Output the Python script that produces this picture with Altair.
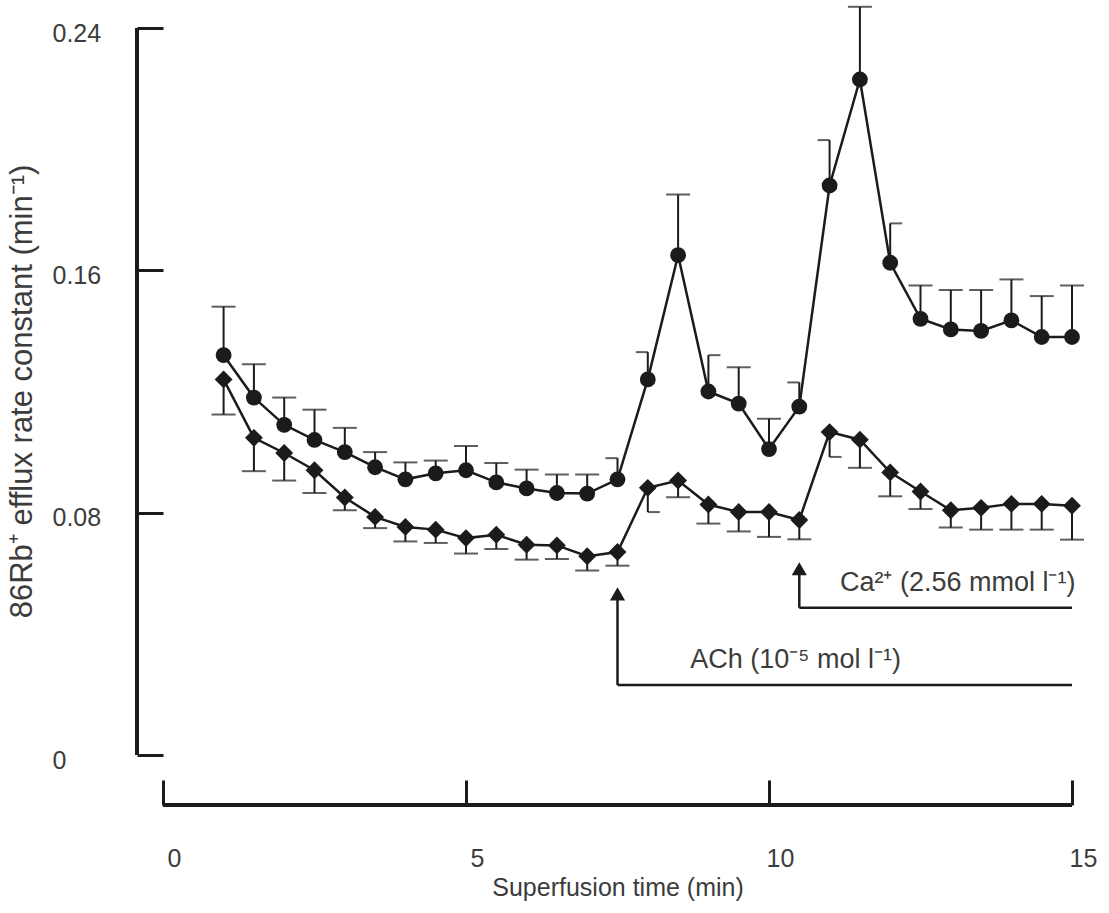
import altair as alt
import pandas as pd

# ---------------- data ----------------
time_min = [1.0, 1.5, 2.0, 2.5, 3.0, 3.5, 4.0, 4.5, 5.0, 5.5, 6.0, 6.5, 7.0, 7.5,
            8.0, 8.5, 9.0, 9.5, 10.0, 10.5, 11.0, 11.5, 12.0, 12.5, 13.0, 13.5,
            14.0, 14.5, 15.0]

# filled circles (upper curve): mean and top of the (upward) error bar
circle_mean = [0.132, 0.118, 0.109, 0.104, 0.100, 0.095, 0.091, 0.093, 0.094, 0.090,
               0.088, 0.0865, 0.0863, 0.091, 0.124, 0.165, 0.120, 0.116, 0.101, 0.115,
               0.188, 0.223, 0.1625, 0.144, 0.1405, 0.140, 0.1435, 0.138, 0.138]
circle_hi = [0.148, 0.129, 0.118, 0.114, 0.108, 0.100, 0.0966, 0.0972, 0.102, 0.0964,
             0.0942, 0.0926, 0.0926, 0.098, 0.133, 0.185, 0.132, 0.128, 0.111, 0.123,
             0.203, 0.247, 0.1755, 0.155, 0.1535, 0.1535, 0.157, 0.1515, 0.155]

# filled diamonds (lower curve): mean and bottom of the (downward) error bar
diamond_mean = [0.124, 0.1047, 0.0997, 0.094, 0.085, 0.0786, 0.0753, 0.0744, 0.0716, 0.0727,
                0.0694, 0.0692, 0.0656, 0.067, 0.0882, 0.0906, 0.0827, 0.0802, 0.0802, 0.0776,
                0.1066, 0.1041, 0.0933, 0.087, 0.0808, 0.0816, 0.0829, 0.0829, 0.0823]
diamond_lo = [0.1124, 0.0937, 0.0906, 0.0865, 0.0808, 0.0749, 0.0705, 0.070, 0.0665, 0.068,
              0.0645, 0.0647, 0.0609, 0.0625, 0.0802, 0.0851, 0.0764, 0.0738, 0.072, 0.0712,
              0.0984, 0.0948, 0.0854, 0.0812, 0.0751, 0.0744, 0.0744, 0.0744, 0.0711]

y_ticks = [0, 0.08, 0.16, 0.24]
x_ticks = [0, 5, 10, 15]

ach_label = "ACh (10\u207b\u2075 mol l\u207b\u00b9)"
ca_label = "Ca\u00b2\u207a (2.56 mmol l\u207b\u00b9)"
y_title = "86Rb\u207a efflux rate constant (min\u207b\u00b9)"
x_title = "Superfusion time (min)"

# ---------------- style ----------------
INK = "#1b1b1b"
TXT = "#3c3c3c"
FONT = "Liberation Sans, Arial, Helvetica, sans-serif"
W, H = 909, 727
# which error-bar caps are drawn only on one side in the original
HALF_CAPS = {("circle", 7.5): "left", ("circle", 8.0): "left", ("circle", 9.0): "right",
             ("circle", 10.5): "left", ("circle", 11.0): "left", ("circle", 12.0): "right",
             ("diamond", 8.0): "right", ("diamond", 11.0): "right"}

rows = []
for t, m, e in zip(time_min, circle_mean, circle_hi):
    rows.append({"t": t, "series": "circle", "mean": m, "end": e,
                 "cap": HALF_CAPS.get(("circle", t), "full")})
for t, m, e in zip(time_min, diamond_mean, diamond_lo):
    rows.append({"t": t, "series": "diamond", "mean": m, "end": e,
                 "cap": HALF_CAPS.get(("diamond", t), "full")})
df = pd.DataFrame(rows)

xscale = alt.Scale(domain=[0, 15], nice=False, zero=False)
yscale = alt.Scale(domain=[0, 0.24], nice=False)

x_axis = alt.Axis(values=x_ticks, title=x_title, domain=False, grid=False,
                  offset=25, tickSize=25, tickWidth=3, tickColor=INK, format="d",
                  labelPadding=41, labelOffset=11, labelFontSize=25, labelColor=TXT,
                  labelFont=FONT, labelBaseline="top", labelFlush=False,
                  titleFont=FONT, titleFontSize=25, titleColor=TXT,
                  titleFontWeight="normal", titlePadding=4)
y_axis = alt.Axis(values=y_ticks, title=y_title, domain=False, grid=False,
                  tickSize=26, tickWidth=3, tickColor=INK,
                  labelAlign="left", labelPadding=85, labelFontSize=25, labelOffset=5,
                  labelColor=TXT, labelFont=FONT, format=".2~f", labelFlush=False,
                  titleFont=FONT, titleFontSize=31, titleColor=TXT,
                  titleFontWeight="normal", titleAngle=270,
                  titleX=-141, titleY=363, titleAlign="center",
                  titleBaseline="middle")

base = alt.Chart(df)

err = base.mark_rule(color=INK, strokeWidth=2).encode(
    x=alt.X("t:Q", scale=xscale, axis=x_axis),
    y=alt.Y("mean:Q", scale=yscale, axis=y_axis),
    y2="end:Q",
)
cap_full = base.transform_filter(alt.datum.cap == "full").mark_tick(
    orient="horizontal", size=24, thickness=2, color=INK).encode(
    x="t:Q", y="end:Q")
cap_left = base.transform_filter(alt.datum.cap == "left").mark_tick(
    orient="horizontal", size=12, thickness=2, color=INK, xOffset=-6).encode(
    x="t:Q", y="end:Q")
cap_right = base.transform_filter(alt.datum.cap == "right").mark_tick(
    orient="horizontal", size=12, thickness=2, color=INK, xOffset=6).encode(
    x="t:Q", y="end:Q")

lines = base.mark_line(color=INK, strokeWidth=2.5).encode(
    x="t:Q", y="mean:Q", detail="series:N")

circles = base.transform_filter(alt.datum.series == "circle").mark_point(
    shape="circle", filled=True, size=250, color=INK, opacity=1).encode(
    x="t:Q", y="mean:Q")
diamonds = base.transform_filter(alt.datum.series == "diamond").mark_point(
    shape="diamond", filled=True, size=320, color=INK, opacity=1).encode(
    x="t:Q", y="mean:Q")

# axis lines, detached from the plot as in the original
y_line = alt.Chart(pd.DataFrame({"a": [0]})).mark_rule(color=INK, strokeWidth=4).encode(
    x=alt.value(-26), y=alt.datum(0), y2=alt.datum(0.24))
x_line = alt.Chart(pd.DataFrame({"a": [0]})).mark_rule(color=INK, strokeWidth=4).encode(
    x=alt.datum(0), x2=alt.datum(15), y=alt.value(H + 50))

# application markers (ACh at 7.5 min, Ca2+ at 10.5 min)
arrows = pd.DataFrame({
    "start": [7.5, 10.5],
    "level": [0.0231, 0.0486],
    "head": [0.0512, 0.0595],
    "tip": [0.0532, 0.0615],
    "stop": [15, 15],
    "text_x": [8.70, 11.17],
    "text_y": [0.0314, 0.0569],
    "label": [ach_label, ca_label],
})
ann = alt.Chart(arrows)
arrow_h = ann.mark_rule(color=INK, strokeWidth=2.5).encode(
    x="start:Q", x2="stop:Q", y="level:Q")
arrow_v = ann.mark_rule(color=INK, strokeWidth=2.5).encode(
    x="start:Q", y="level:Q", y2="head:Q")
arrow_head = ann.mark_point(shape="triangle-up", filled=True, size=230,
                            color=INK, opacity=1).encode(x="start:Q", y="tip:Q")
arrow_txt = ann.mark_text(align="left", baseline="middle", font=FONT,
                          fontSize=27, color=TXT).encode(
    x="text_x:Q", y="text_y:Q", text="label:N")

chart = alt.layer(
    err, cap_full, cap_left, cap_right, lines, circles, diamonds,
    y_line, x_line, arrow_h, arrow_v, arrow_head, arrow_txt
).properties(
    width=W, height=H,
    autosize=alt.AutoSizeParams(type="none"),
    padding={"left": 163, "top": 28, "right": 37, "bottom": 158},
    background="white",
).configure_view(stroke=None)

chart.save("out.html", embed_options={"renderer": "svg", "actions": False})
